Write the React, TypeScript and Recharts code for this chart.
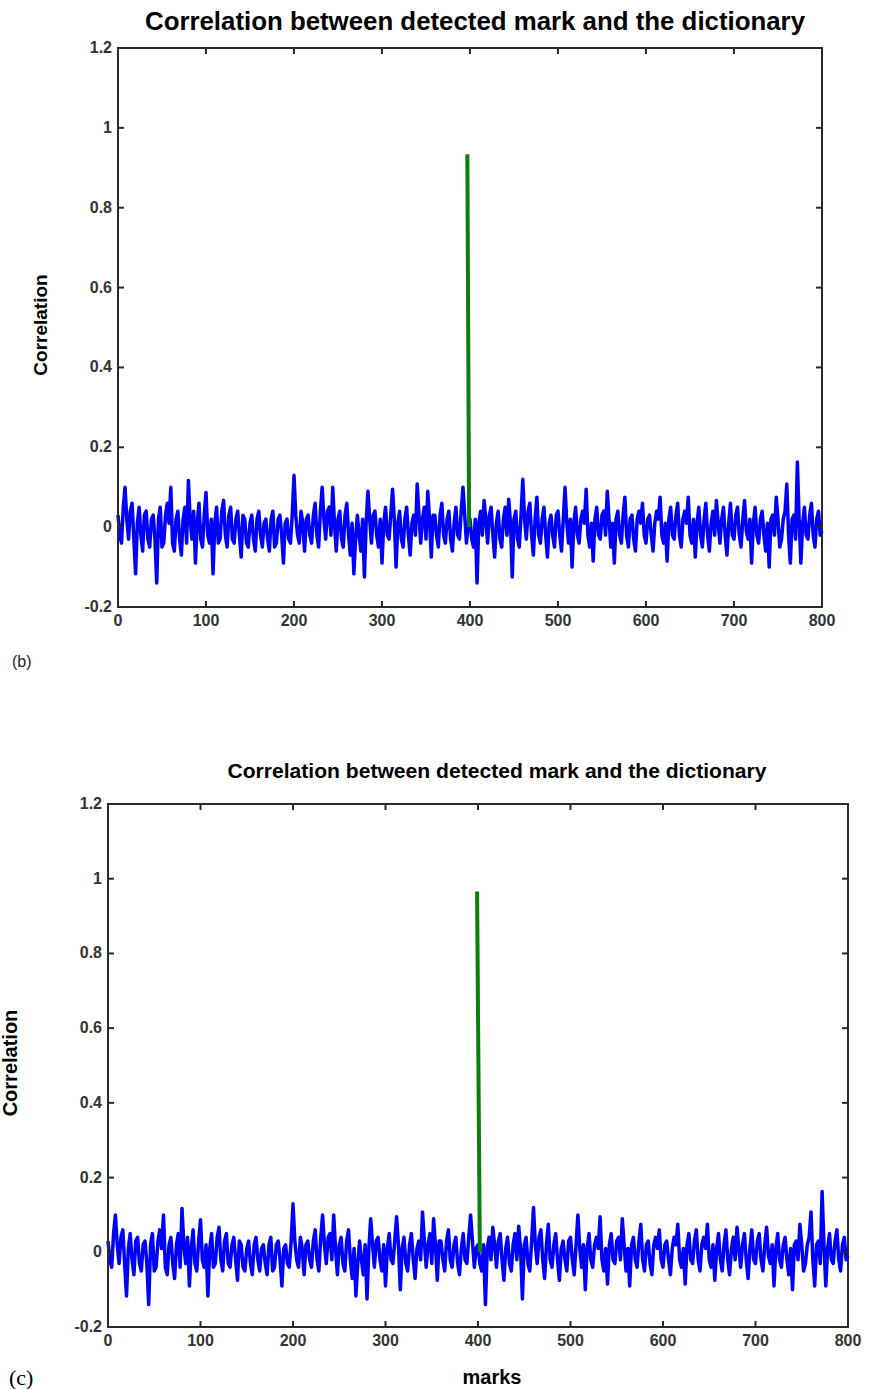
import { LineChart, Line, XAxis, YAxis, ReferenceArea } from 'recharts';

// correlation of the detected mark against each dictionary entry (sampled every 2 marks)
const markStep = 2;
const noiseValues = [
  0.03, -0.02, -0.04, 0.05, 0.10, 0.02, -0.03, 0.04, 0.06, -0.03, -0.117, 0.01, 0.05, -0.02, -0.06, 0.03, 0.04, -0.03, -0.05, 0.02,
  0.03, -0.03, -0.14, 0.02, 0.05, -0.05, -0.04, 0.03, 0.06, 0.01, 0.10, -0.04, -0.06, 0.02, 0.04, -0.03, -0.07, 0.02, 0.05, -0.04,
  0.117, 0.02, -0.03, 0.04, -0.09, 0.01, 0.06, -0.03, -0.05, 0.03, 0.087, -0.02, -0.04, 0.02, -0.117, 0.01, 0.05, -0.04, -0.03, 0.04,
  0.067, -0.02, -0.05, 0.03, 0.05, -0.03, -0.04, 0.02, 0.04, -0.02, -0.075, 0.03, 0.02, -0.04, -0.05, 0.01, 0.03, -0.03, -0.06, 0.02,
  0.04, -0.02, -0.05, 0.01, 0.02, -0.03, -0.06, 0.02, 0.04, -0.05, -0.04, 0.02, 0.03, -0.02, -0.09, 0.01, 0.02, -0.03, -0.04, 0.03,
  0.13, 0.03, -0.02, -0.04, 0.04, 0.01, -0.06, 0.02, 0.03, -0.02, -0.04, 0.03, 0.06, -0.02, -0.05, 0.04, 0.10, 0.02, -0.03, 0.04,
  0.05, -0.02, 0.10, 0.01, -0.06, 0.02, 0.04, -0.03, -0.05, 0.03, 0.06, -0.02, -0.07, 0.01, -0.117, -0.03, 0.03, -0.02, -0.06, 0.02,
  -0.125, 0.01, 0.09, 0.02, -0.04, 0.03, 0.04, -0.02, -0.05, 0.02, -0.09, 0.01, 0.05, -0.02, -0.03, 0.03, 0.095, 0.02, -0.10, 0.01,
  0.04, -0.03, -0.05, 0.02, 0.05, -0.02, -0.07, 0.01, 0.03, -0.02, 0.108, 0.03, -0.04, 0.02, 0.05, -0.03, 0.09, 0.02, -0.075, 0.03,
  0.03, -0.02, -0.05, 0.03, 0.06, -0.02, -0.04, 0.02, 0.04, -0.03, -0.06, 0.01, 0.05, -0.02, -0.03, 0.04, 0.10, 0.03, -0.04, 0.01,
  0.02, -0.03, -0.05, 0.02, -0.14, 0.01, 0.04, -0.02, 0.067, 0.02, -0.04, 0.03, 0.05, -0.02, -0.075, 0.01, 0.04, -0.03, -0.05, 0.02,
  0.05, -0.02, 0.07, 0.01, -0.125, 0.02, 0.04, -0.03, -0.05, 0.03, 0.12, 0.02, -0.03, 0.04, 0.06, -0.02, -0.07, 0.02, 0.075, -0.02,
  -0.04, 0.02, 0.05, -0.02, -0.075, 0.01, 0.03, -0.02, -0.05, 0.03, 0.04, -0.02, -0.06, 0.02, 0.10, 0.01, -0.04, 0.02, -0.10, 0.01,
  0.05, -0.02, -0.04, 0.02, 0.04, 0.01, 0.095, -0.02, -0.05, 0.01, -0.085, 0.02, 0.05, -0.02, -0.03, 0.03, 0.04, -0.02, 0.09, 0.02,
  -0.05, 0.01, -0.09, 0.02, 0.04, -0.02, -0.04, 0.03, 0.075, -0.02, -0.05, 0.02, 0.03, -0.03, -0.06, 0.02, 0.04, 0.01, 0.06, -0.02,
  -0.04, 0.02, 0.03, -0.02, -0.06, 0.01, 0.04, 0.02, 0.075, -0.02, -0.04, 0.01, -0.085, 0.02, 0.05, -0.02, -0.03, 0.03, 0.06, -0.02,
  -0.05, 0.02, 0.04, 0.01, 0.075, -0.02, -0.04, 0.02, -0.075, 0.01, 0.05, -0.02, -0.05, 0.02, 0.06, -0.02, -0.06, 0.01, 0.04, -0.02,
  0.067, 0.01, -0.04, 0.02, 0.05, -0.02, -0.07, 0.01, 0.06, -0.02, -0.03, 0.03, 0.05, -0.02, -0.05, 0.02, 0.067, -0.01, -0.03, 0.02,
  -0.09, 0.01, 0.05, -0.02, -0.04, 0.02, 0.04, -0.02, -0.06, 0.01, -0.10, 0.02, 0.03, -0.02, 0.075, 0.02, -0.05, -0.03, 0.02, 0.04,
  0.108, -0.02, -0.09, 0.02, 0.03, -0.03, 0.163, 0.02, -0.09, 0.01, 0.05, -0.02, -0.03, 0.03, 0.06, -0.02, -0.05, 0.02, 0.04, -0.02,
  -0.01,
];

// the matching entry (green spike)
const spikeMarksB = [397, 399];
const spikeValuesB = [0.934, 0];
const spikeMarksC = [399, 402];
const spikeValuesC = [0.966, 0];

const xTicks = [0, 100, 200, 300, 400, 500, 600, 700, 800];
const yTicks = [-0.2, 0, 0.2, 0.4, 0.6, 0.8, 1, 1.2];

const title = 'Correlation between detected mark and the dictionary';
const yLabel = 'Correlation';
const xLabel = 'marks';

const noiseData = noiseValues.map((v, i) => ({ mark: i * markStep, value: v }));
const toRows = (marks: number[], values: number[]) => marks.map((m, i) => ({ mark: m, value: values[i] }));

const axisColor = '#2a2a2a';
const labelColor = '#333';
const font = 'Liberation Sans, Arial, sans-serif';
const tickLen = 6;

// matlab-style inward ticks, mirrored on the top edge
const BottomTick = ({ x, y, payload, plotHeight }: any) => (
  <g>
    <line x1={x} x2={x} y1={y} y2={y - tickLen} stroke={axisColor} strokeWidth={2} />
    <line x1={x} x2={x} y1={y - plotHeight} y2={y - plotHeight + tickLen} stroke={axisColor} strokeWidth={2} />
    <text x={x} y={y + 19} textAnchor="middle" fontSize={16} fontWeight="bold" fill={labelColor} fontFamily={font}>
      {payload.value}
    </text>
  </g>
);

// same on the left / right edges
const LeftTick = ({ x, y, payload, plotWidth }: any) => (
  <g>
    <line x1={x} x2={x + tickLen} y1={y} y2={y} stroke={axisColor} strokeWidth={2} />
    <line x1={x + plotWidth} x2={x + plotWidth - tickLen} y1={y} y2={y} stroke={axisColor} strokeWidth={2} />
    <text x={x - 6} y={y + 5} textAnchor="end" fontSize={16} fontWeight="bold" fill={labelColor} fontFamily={font}>
      {payload.value}
    </text>
  </g>
);

type PanelProps = {
  top: number
  height: number
  margin: { top: number, right: number, bottom: number, left: number }
  spike: { mark: number, value: number }[]
}

const Panel = ({ top, height, margin, spike }: PanelProps) => {
  const yAxisWidth = 60;
  const xAxisHeight = 30;
  const plotWidth = 870 - margin.left - margin.right - yAxisWidth;
  const plotHeight = height - margin.top - margin.bottom - xAxisHeight;
  return (
    <div style={{ position: 'absolute', left: 0, top }}>
      <LineChart width={870} height={height} margin={margin}>
        <XAxis dataKey="mark" type="number" domain={[0, 800]} ticks={xTicks} interval={0}
          axisLine={{ stroke: axisColor, strokeWidth: 2 }} tickLine={false} tickSize={0} tickMargin={0}
          tick={<BottomTick plotHeight={plotHeight} />} height={xAxisHeight} />
        <YAxis type="number" domain={[-0.2, 1.2]} ticks={yTicks} interval={0} allowDataOverflow
          axisLine={{ stroke: axisColor, strokeWidth: 2 }} tickLine={false} tickSize={0} tickMargin={0}
          tick={<LeftTick plotWidth={plotWidth} />} width={yAxisWidth} />
        <ReferenceArea x1={0} x2={800} y1={-0.2} y2={1.2} fill="none" stroke={axisColor} strokeWidth={2} />
        <Line data={noiseData} dataKey="value" type="linear" stroke="#0000ff" strokeWidth={3.5}
          strokeLinejoin="round" dot={false} isAnimationActive={false} />
        <Line data={spike} dataKey="value" type="linear" stroke="#0a800a" strokeWidth={4}
          dot={false} isAnimationActive={false} />
      </LineChart>
    </div>
  );
};

export default function App() {
  return (
    <div style={{ position: 'absolute', left: 0, top: 0, width: 870, height: 1389, background: '#fff' }}>
      <Panel top={0} height={680} margin={{ top: 48, right: 48, bottom: 43, left: 58 }}
        spike={toRows(spikeMarksB, spikeValuesB)} />
      <Panel top={756} height={620} margin={{ top: 48, right: 22, bottom: 19, left: 48 }}
        spike={toRows(spikeMarksC, spikeValuesC)} />
      <svg width={870} height={1389} style={{ position: 'absolute', left: 0, top: 0, pointerEvents: 'none' }}>
        <text x={475} y={30} textAnchor="middle" fontSize={25} fontWeight="bold" fontFamily={font}
          textLength={660} lengthAdjust="spacingAndGlyphs" fill="#000">{title}</text>
        <text transform="translate(47,325) rotate(-90)" textAnchor="middle" fontSize={19} fontWeight="bold"
          fontFamily={font} fill="#000">{yLabel}</text>
        <text x={12} y={667} fontSize={16} fontFamily={font} fill="#222">(b)</text>

        <text x={497} y={778} textAnchor="middle" fontSize={21} fontWeight="bold" fontFamily={font}
          textLength={539} lengthAdjust="spacingAndGlyphs" fill="#000">{title}</text>
        <text transform="translate(17,1063) rotate(-90)" textAnchor="middle" fontSize={20} fontWeight="bold"
          fontFamily={font} fill="#000">{yLabel}</text>
        <text x={492} y={1384} textAnchor="middle" fontSize={20} fontWeight="bold" fontFamily={font} fill="#000">{xLabel}</text>
        <text x={9} y={1385} fontSize={22} fontFamily="Liberation Serif, serif" fill="#000">(c)</text>
      </svg>
    </div>
  );
}
